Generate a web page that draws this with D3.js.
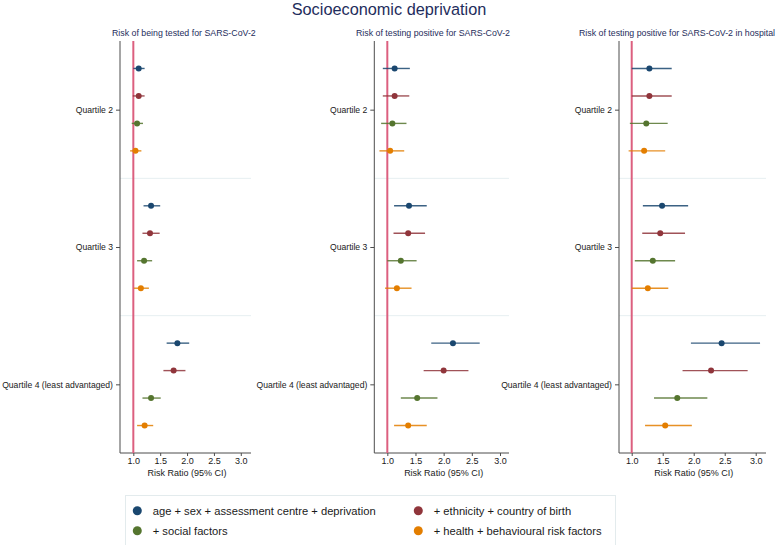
<!DOCTYPE html>
<html><head><meta charset="utf-8">
<script src="https://cdn.jsdelivr.net/npm/d3@7"></script>
<style>body{margin:0;background:#fff}svg{display:block;font-family:"Liberation Sans",Arial,Helvetica,sans-serif}</style>
</head><body><svg id="c" width="778" height="545"></svg>
<script>
const chartTitle = "Socioeconomic deprivation";
const panelTitles = ["Risk of being tested for SARS-CoV-2", "Risk of testing positive for SARS-CoV-2", "Risk of testing positive for SARS-CoV-2 in hospital"];
const quartiles = ["Quartile 2", "Quartile 3", "Quartile 4 (least advantaged)"];
const models = ["age + sex + assessment centre + deprivation", "+ ethnicity + country of birth", "+ social factors", "+ health + behavioural risk factors"];
const xTicks = [1.0, 1.5, 2.0, 2.5, 3.0];
const xLabel = "Risk Ratio (95% CI)";

// [quartile][model]
const rrTested = [[1.10, 1.10, 1.07, 1.04], [1.33, 1.31, 1.20, 1.14], [1.82, 1.75, 1.33, 1.21]];
const loTested = [[1.00, 0.99, 0.97, 0.94], [1.19, 1.17, 1.07, 1.01], [1.62, 1.56, 1.17, 1.07]];
const hiTested = [[1.21, 1.21, 1.18, 1.15], [1.50, 1.49, 1.35, 1.29], [2.04, 1.97, 1.51, 1.37]];

const rrPositive = [[1.13, 1.13, 1.09, 1.05], [1.385, 1.37, 1.24, 1.17], [2.165, 2.00, 1.53, 1.37]];
const loPositive = [[0.92, 0.92, 0.89, 0.86], [1.12, 1.11, 1.00, 0.96], [1.78, 1.645, 1.24, 1.12]];
const hiPositive = [[1.40, 1.39, 1.34, 1.30], [1.70, 1.67, 1.52, 1.43], [2.64, 2.44, 1.89, 1.70]];

const rrHospital = [[1.285, 1.285, 1.235, 1.20], [1.49, 1.46, 1.34, 1.26], [2.45, 2.28, 1.735, 1.54]];
const loHospital = [[1.00, 1.00, 0.97, 0.95], [1.18, 1.17, 1.05, 1.00], [1.955, 1.82, 1.36, 1.215]];
const hiHospital = [[1.645, 1.645, 1.58, 1.54], [1.91, 1.86, 1.70, 1.59], [3.07, 2.87, 2.22, 1.97]];

const colors = ["#1a476f", "#90353b", "#55752f", "#e37e00"];

const panelData = [[rrTested, loTested, hiTested], [rrPositive, loPositive, hiPositive], [rrHospital, loHospital, hiHospital]];

const svg = d3.select("#c");
const plotTop = 41, plotBottom = 453;
const y = d3.scaleLinear().domain([0, 15]).range([plotTop, plotBottom]);
const layouts = [
  {L: 120, R: 251, d0: 0.752, d1: 3.19, tx: 112},
  {L: 374.3, R: 509, d0: 0.769, d1: 3.16, tx: 356},
  {L: 619, R: 766, d0: 0.795, d1: 3.166, tx: 579}
];
const axisCol = "#4d4d4d";
const textCol = "#1a1a1a";

svg.append("text").attr("x", 389).attr("y", 14.5).attr("text-anchor", "middle")
  .attr("font-size", 16.3).attr("fill", "#1e2d5c").text(chartTitle);

layouts.forEach((lay, p) => {
  const x = d3.scaleLinear().domain([lay.d0, lay.d1]).range([lay.L, lay.R]);
  const g = svg.append("g");
  g.append("text").attr("x", lay.tx).attr("y", 36).attr("text-anchor", "start")
    .attr("font-size", 8.8).attr("fill", "#1e2d5c").text(panelTitles[p]);

  // separators
  [5, 10].forEach(k => g.append("line").attr("x1", lay.L).attr("x2", lay.R)
    .attr("y1", y(k)).attr("y2", y(k)).attr("stroke", "#e6eff1").attr("stroke-width", 1));

  // x axis
  const xa = g.append("g").attr("transform", `translate(0,${plotBottom})`)
    .call(d3.axisBottom(x).tickValues(xTicks).tickFormat(d3.format(".1f")).tickSize(3).tickSizeOuter(0));
  xa.select(".domain").remove();
  xa.selectAll(".tick line").attr("stroke", axisCol);
  xa.selectAll(".tick text").attr("font-size", 9).attr("fill", textCol).attr("y", 5).attr("dy", "0.71em")
    .attr("font-family", "Liberation Sans, Arial, sans-serif");
  g.append("line").attr("x1", lay.L).attr("x2", lay.R).attr("y1", plotBottom).attr("y2", plotBottom)
    .attr("stroke", axisCol).attr("stroke-width", 1);
  g.append("text").attr("x", (x(1) + x(3)) / 2).attr("y", 476).attr("text-anchor", "middle")
    .attr("font-size", 9).attr("fill", textCol).text(xLabel);

  // y axis
  const ya = g.append("g").attr("transform", `translate(${lay.L},0)`)
    .call(d3.axisLeft(y).tickValues([2.5, 7.5, 12.5]).tickFormat((d, i) => quartiles[i]).tickSize(4).tickSizeOuter(0));
  ya.select(".domain").remove();
  ya.selectAll(".tick line").attr("stroke", axisCol);
  ya.selectAll(".tick text").attr("font-size", 8.6).attr("fill", textCol)
    .attr("font-family", "Liberation Sans, Arial, sans-serif");
  g.append("line").attr("x1", lay.L).attr("x2", lay.L).attr("y1", plotTop).attr("y2", plotBottom)
    .attr("stroke", axisCol).attr("stroke-width", 1);

  // reference line
  g.append("line").attr("x1", x(1)).attr("x2", x(1)).attr("y1", plotTop).attr("y2", plotBottom)
    .attr("stroke", "#dc5f7f").attr("stroke-width", 2);

  const [rr, lo, hi] = panelData[p];
  quartiles.forEach((q, qi) => {
    models.forEach((m, mi) => {
      const yy = y(qi * 5 + mi + 1);
      g.append("line").attr("x1", x(lo[qi][mi])).attr("x2", x(hi[qi][mi]))
        .attr("y1", yy).attr("y2", yy).attr("stroke", colors[mi]).attr("stroke-width", 1.4).attr("opacity", 0.85);
      g.append("circle").attr("cx", x(rr[qi][mi])).attr("cy", yy).attr("r", 3).attr("fill", colors[mi]);
    });
  });
});

// legend
const lg = svg.append("g");
lg.append("rect").attr("x", 125.5).attr("y", 495.5).attr("width", 490).attr("height", 52)
  .attr("fill", "#fff").attr("stroke", "#e3ebed").attr("stroke-width", 1);
const legPos = [[137.3, 510.7], [418.3, 510.7], [137.3, 530.7], [418.3, 530.7]];
models.forEach((m, i) => {
  lg.append("circle").attr("cx", legPos[i][0]).attr("cy", legPos[i][1]).attr("r", 4.5).attr("fill", colors[i]);
  lg.append("text").attr("x", legPos[i][0] + 15.4).attr("y", legPos[i][1] + 4).attr("font-size", 11.2)
    .attr("fill", textCol).text(m);
});
</script></body></html>
